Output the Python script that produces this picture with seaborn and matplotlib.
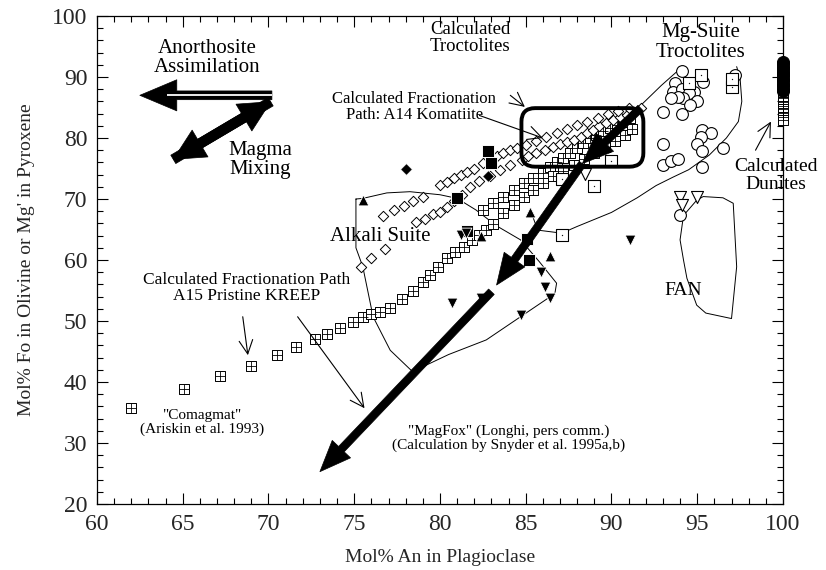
import matplotlib
matplotlib.use("Agg")
import matplotlib.pyplot as plt
import seaborn as sns
from matplotlib.patches import FancyArrowPatch, FancyBboxPatch
from matplotlib.ticker import MultipleLocator

# ---------------- data ----------------
# Comagmat fractionation path, A15 pristine KREEP (crossed squares)
kreep_x = [62.0, 65.1, 67.2, 69.0, 70.5, 71.6, 72.7, 73.4, 74.2, 74.9, 75.5, 76.0, 76.5,
           77.1, 77.8, 78.4, 79.0, 79.4, 79.9, 80.4, 80.9, 81.4, 81.85, 82.3, 82.7, 83.1,
           83.7, 84.3, 84.9, 85.4, 86.0, 86.6, 87.2, 87.8, 88.4, 89.0, 89.6, 90.2, 90.8, 91.2]
kreep_y = [35.8, 38.8, 41.0, 42.7, 44.4, 45.7, 47.0, 47.9, 48.9, 49.9, 50.6, 51.1, 51.5,
           52.1, 53.6, 55.0, 56.4, 57.5, 58.9, 60.3, 61.3, 62.2, 63.3, 64.1, 64.9, 65.9,
           67.7, 69.0, 70.4, 71.5, 72.6, 73.7, 74.6, 75.6, 76.6, 77.6, 78.6, 79.5, 80.5, 81.4]
# second (upper) band of crossed squares
kreep2_x = [82.5, 83.1, 83.7, 84.3, 84.9, 85.4, 86.0, 86.4, 86.8, 87.2, 87.6, 88.0,
            88.35, 88.75, 89.1, 89.5, 89.9, 90.3, 90.7, 91.1]
kreep2_y = [68.2, 69.3, 70.4, 71.5, 72.6, 73.4, 74.3, 75.3, 76.1, 76.7, 77.5, 78.3,
            79.2, 80.0, 80.5, 81.1, 81.6, 82.2, 82.7, 83.2]

# A14 komatiite fractionation path (open diamonds), upper chain
dia1_x = [76.7, 77.3, 77.9, 78.4, 79.0, 80.0, 80.4, 80.8, 81.2, 81.6, 82.0, 82.5, 82.9,
          83.3, 83.7, 84.1, 84.5, 85.0, 85.6, 86.2, 86.8, 87.4, 88.0, 88.6, 89.2, 89.8,
          90.4, 91.0]
dia1_y = [67.2, 68.2, 68.9, 69.6, 70.4, 72.3, 72.8, 73.4, 73.9, 74.4, 75.0, 75.9, 76.4,
          77.0, 77.5, 78.0, 78.3, 78.8, 79.5, 80.2, 80.9, 81.5, 82.1, 82.7, 83.3, 83.9,
          84.4, 84.9]
# lower chain of open diamonds
dia2_x = [75.4, 76.0, 76.8, 78.6, 79.1, 79.6, 80.0, 80.4, 80.8, 81.3, 81.75, 82.3, 82.9,
          83.5, 84.1, 84.76, 85.15, 85.6, 86.1, 86.6, 87.0, 87.4, 87.8, 88.2, 88.55, 88.9,
          89.3, 89.7, 90.1, 90.5, 90.9, 91.3, 91.7]
dia2_y = [58.9, 60.3, 61.8, 66.3, 66.7, 67.6, 67.9, 68.75, 69.6, 70.7, 72.0, 72.9, 73.8,
          74.7, 75.6, 76.4, 77.0, 77.5, 78.0, 78.6, 79.1, 79.4, 79.7, 80.2, 80.8, 81.3,
          81.9, 82.4, 83.0, 83.5, 83.8, 84.3, 84.9]

# Mg-suite troctolites (open circles)
circ_x = [94.1, 93.7, 93.6, 94.1, 94.8, 95.35, 94.5, 94.2, 95.0, 94.6, 93.9, 93.5, 93.0,
          94.1, 97.2, 93.0, 95.25, 95.8, 95.2, 95.0, 95.25, 96.5, 93.0, 93.5, 93.9, 95.25, 94.0]
circ_y = [91.0, 89.0, 87.6, 88.1, 87.6, 89.2, 87.3, 86.5, 86.0, 85.4, 86.8, 86.5, 84.3,
          84.0, 90.3, 79.1, 81.3, 80.8, 80.2, 79.1, 77.8, 78.3, 75.6, 76.2, 76.6, 75.3, 67.4]

# open squares with a centre dot
sqd_x = [87.1, 89.0, 90.0, 87.1, 94.5, 95.2, 97.0, 97.05]
sqd_y = [73.2, 72.1, 76.3, 64.1, 89.0, 90.3, 88.4, 89.6]

# open down-pointing triangles
otri_x = [88.45, 94.0, 94.97, 94.1]
otri_y = [74.1, 70.4, 70.4, 69.0]

# filled symbols
fdia_x = [78.0, 82.8]
fdia_y = [74.9, 73.7]
fsq_x = [82.8, 83.0, 81.0, 81.6, 85.05, 85.2]
fsq_y = [77.8, 75.9, 70.1, 64.8, 63.4, 60.0]
futri_x = [75.5, 85.25, 86.4, 82.4]
futri_y = [69.8, 67.9, 60.6, 64.0]
fdtri_x = [81.2, 85.9, 86.1, 86.4, 84.7, 82.4, 80.7, 91.1, 81.5]
fdtri_y = [64.1, 58.1, 55.6, 53.7, 51.0, 53.7, 52.9, 63.3, 64.4]

# calculated dunites at An 100
dun_fill_y = [92.5, 92.1, 91.7, 91.3, 90.9, 90.5, 90.1, 89.7, 89.3, 88.9, 88.5, 88.1, 87.7]
dun_sq_y = [87.1, 86.5, 85.9, 85.3, 84.7, 84.1, 83.5, 83.0]

# field outlines
alk_x = [75.1, 75.5, 76.9, 78.25, 80.0, 81.0, 82.1, 83.3, 84.7, 85.8, 86.8, 86.7, 84.7,
         82.7, 80.5, 78.4, 77.1, 76.1, 75.5, 75.1, 75.1, 75.1]
alk_y = [70.0, 70.1, 71.0, 71.2, 70.7, 70.1, 68.2, 65.6, 63.3, 59.7, 56.2, 54.5, 50.7,
         46.9, 44.5, 41.7, 45.2, 50.7, 58.9, 62.0, 66.6, 70.0]
mg_x = [85.4, 85.7, 87.1, 88.0, 90.0, 91.5, 92.6, 93.6, 94.5, 95.7, 96.7, 97.4, 97.6, 97.5, 97.3]
mg_y = [67.2, 64.9, 64.4, 65.5, 67.8, 70.2, 72.2, 73.6, 74.8, 77.2, 80.0, 82.7, 86.0, 89.8, 91.7]
mgtop_x = [91.8, 92.9, 93.9]
mgtop_y = [85.6, 88.6, 91.1]
fan_x = [94.2, 94.97, 95.35, 96.5, 97.1, 97.3, 97.0, 95.5, 94.97, 94.4, 94.2, 94.0, 94.2]
fan_y = [67.3, 69.8, 70.4, 70.2, 69.3, 58.9, 50.4, 51.3, 52.6, 57.0, 60.0, 63.3, 67.3]

# arrows (start, end) in data units
magfox_segs = [((91.7, 84.9), (88.3, 75.8)), ((88.3, 75.8), (83.3, 55.9)),
               ((83.0, 54.8), (73.0, 25.3))]
anorth_arrow = ((70.2, 87.0), (62.5, 87.0))
mixing_arrow = ((64.45, 76.5), (70.13, 85.95))
thin_arrows = [((84.1, 87.0), (84.95, 85.1)), ((82.3, 83.7), (86.0, 80.0)),
               ((68.5, 50.7), (68.8, 44.4)), ((71.7, 50.7), (75.6, 35.7)),
               ((98.4, 78.0), (99.3, 82.7))]
troct_box = (84.75, 75.3, 91.86, 84.9)

# ---------------- figure ----------------
sns.set_theme(style="ticks")
plt.rcParams['font.family'] = ['Liberation Serif', 'DejaVu Serif']

fig = plt.figure(figsize=(8.26, 5.70), dpi=100)
ax = fig.add_axes([0.1174, 0.1158, 0.8305, 0.8561])
ax.set_xlim(60, 100)
ax.set_ylim(20, 100)

K = 'black'


def crossed(x, y, s, z=3, clip=True):
    sns.scatterplot(x=x, y=y, marker='s', s=s, color='white', edgecolor=K,
                    linewidth=0.7, ax=ax, zorder=z, clip_on=clip, legend=False)
    sns.scatterplot(x=x, y=y, marker='+', s=s, color=K, linewidth=0.6,
                    ax=ax, zorder=z + 0.1, clip_on=clip, legend=False)


# outlines
for xs, ys in [(alk_x, alk_y), (mg_x, mg_y), (mgtop_x, mgtop_y), (fan_x, fan_y)]:
    sns.lineplot(x=xs, y=ys, sort=False, estimator=None, color=K, lw=0.7, ax=ax, zorder=2)

# crossed squares
crossed(kreep2_x, kreep2_y, 58, z=3)
crossed(kreep_x, kreep_y, 58, z=3.3)

# diamonds
sns.scatterplot(x=dia2_x, y=dia2_y, marker='D', s=28, color='white', edgecolor=K,
                linewidth=0.7, ax=ax, zorder=3.5, legend=False)
sns.scatterplot(x=dia1_x, y=dia1_y, marker='D', s=28, color='white', edgecolor=K,
                linewidth=0.7, ax=ax, zorder=3.6, legend=False)

# circles
sns.scatterplot(x=circ_x, y=circ_y, marker='o', s=72, color='white', edgecolor=K,
                linewidth=0.8, ax=ax, zorder=4, legend=False)
# dotted squares
sns.scatterplot(x=sqd_x, y=sqd_y, marker='s', s=65, color='white', edgecolor=K,
                linewidth=0.8, ax=ax, zorder=4.2, legend=False)
sns.scatterplot(x=sqd_x, y=sqd_y, marker='.', s=4, color=K, ax=ax, zorder=4.3, legend=False)
# open down triangles
sns.scatterplot(x=otri_x, y=otri_y, marker='v', s=75, color='white', edgecolor=K,
                linewidth=0.8, ax=ax, zorder=4.2, legend=False)
# filled symbols
sns.scatterplot(x=fdia_x, y=fdia_y, marker='D', s=35, color=K, ax=ax, zorder=5, legend=False)
sns.scatterplot(x=fsq_x, y=fsq_y, marker='s', s=70, color=K, ax=ax, zorder=5, legend=False)
sns.scatterplot(x=futri_x, y=futri_y, marker='^', s=60, color=K, ax=ax, zorder=5, legend=False)
sns.scatterplot(x=fdtri_x, y=fdtri_y, marker='v', s=60, color=K, ax=ax, zorder=5, legend=False)

# dunites column
crossed([100] * len(dun_sq_y), dun_sq_y, 60, z=5, clip=False)
sns.scatterplot(x=[100] * len(dun_fill_y), y=dun_fill_y, marker='o', s=75, color=K,
                edgecolor=K, ax=ax, zorder=5.5, clip_on=False, legend=False)

# calculated troctolites box
x0, y0, x1, y1 = troct_box
box = FancyBboxPatch((x0, y0), x1 - x0, y1 - y0,
                     boxstyle="round,pad=0,rounding_size=0.8",
                     mutation_aspect=17.15 / 6.1, fc='none', ec=K, lw=2.8, zorder=6)
ax.add_patch(box)

# MagFox thick arrows
for (p, q) in magfox_segs:
    ax.add_patch(FancyArrowPatch(p, q, arrowstyle="simple,head_length=1.6,head_width=1.3,tail_width=0.4",
                                 mutation_scale=14, fc=K, ec=K, lw=0.5, zorder=7,
                                 shrinkA=0, shrinkB=0))

# anorthosite assimilation (hollow double-line arrow)
p, q = anorth_arrow
ax.add_patch(FancyArrowPatch(p, q, arrowstyle="simple,head_length=1.9,head_width=1.6,tail_width=0.45",
                             mutation_scale=14, fc=K, ec=K, lw=0.5, zorder=7,
                             shrinkA=0, shrinkB=0))
ax.plot([p[0], q[0] + 1.6], [p[1], q[1]], color='white', lw=1.3, zorder=7.5,
        solid_capstyle='butt')

# magma mixing double arrow
p, q = mixing_arrow
ax.add_patch(FancyArrowPatch(p, q, arrowstyle="simple,head_length=1.6,head_width=1.6,tail_width=0.5",
                             mutation_scale=14, fc=K, ec=K, lw=0.5, zorder=7,
                             shrinkA=0, shrinkB=0))
ax.add_patch(FancyArrowPatch(q, p, arrowstyle="simple,head_length=1.6,head_width=1.6,tail_width=0.5",
                             mutation_scale=14, fc=K, ec=K, lw=0.5, zorder=7,
                             shrinkA=0, shrinkB=0))

# thin annotation arrows
for (p, q) in thin_arrows:
    ax.annotate("", xy=q, xytext=p, annotation_clip=False,
                arrowprops=dict(arrowstyle="->,head_length=0.7,head_width=0.35",
                                color=K, lw=0.8, shrinkA=0, shrinkB=0,
                                mutation_scale=14), zorder=8)

# text labels
def lab(x, y, s, size, **kw):
    ax.text(x, y, s, fontsize=size, ha='center', va='center', color=K,
            linespacing=1.05, zorder=9, clip_on=False, **kw)


lab(66.44, 93.1, "Anorthosite\nAssimilation", 15)
lab(69.5, 76.4, "Magma\nMixing", 15)
lab(81.75, 96.4, "Calculated\nTroctolites", 13.5)
lab(78.5, 85.1, "Calculated Fractionation\nPath: A14 Komatiite", 12)
lab(95.2, 95.7, "Mg-Suite\nTroctolites", 15)
lab(99.6, 73.9, "Calculated\nDunites", 14)
lab(76.5, 63.8, "Alkali Suite", 15)
lab(94.2, 55.0, "FAN", 14)
lab(68.7, 55.4, "Calculated Fractionation Path\nA15 Pristine KREEP", 12.5)
lab(66.1, 33.4, "\"Comagmat\"\n(Ariskin et al. 1993)", 11)
lab(84.0, 30.8, "\"MagFox\" (Longhi, pers comm.)\n(Calculation by Snyder et al. 1995a,b)", 11)

# axes styling
ax.xaxis.set_major_locator(MultipleLocator(5))
ax.xaxis.set_minor_locator(MultipleLocator(1))
ax.yaxis.set_major_locator(MultipleLocator(10))
ax.yaxis.set_minor_locator(MultipleLocator(2))
ax.tick_params(which='both', direction='in', top=True, right=True, color=K, width=0.8)
ax.tick_params(which='major', length=8, labelsize=17, pad=7)
ax.tick_params(which='minor', length=4)
for sp in ax.spines.values():
    sp.set_color(K)
    sp.set_linewidth(0.9)
ax.set_xlabel("Mol% An in Plagioclase", fontsize=14, labelpad=10)
ax.set_ylabel("Mol% Fo in Olivine or Mg' in Pyroxene", fontsize=14, labelpad=12)

fig.savefig("out.png", dpi=100, facecolor='white')
